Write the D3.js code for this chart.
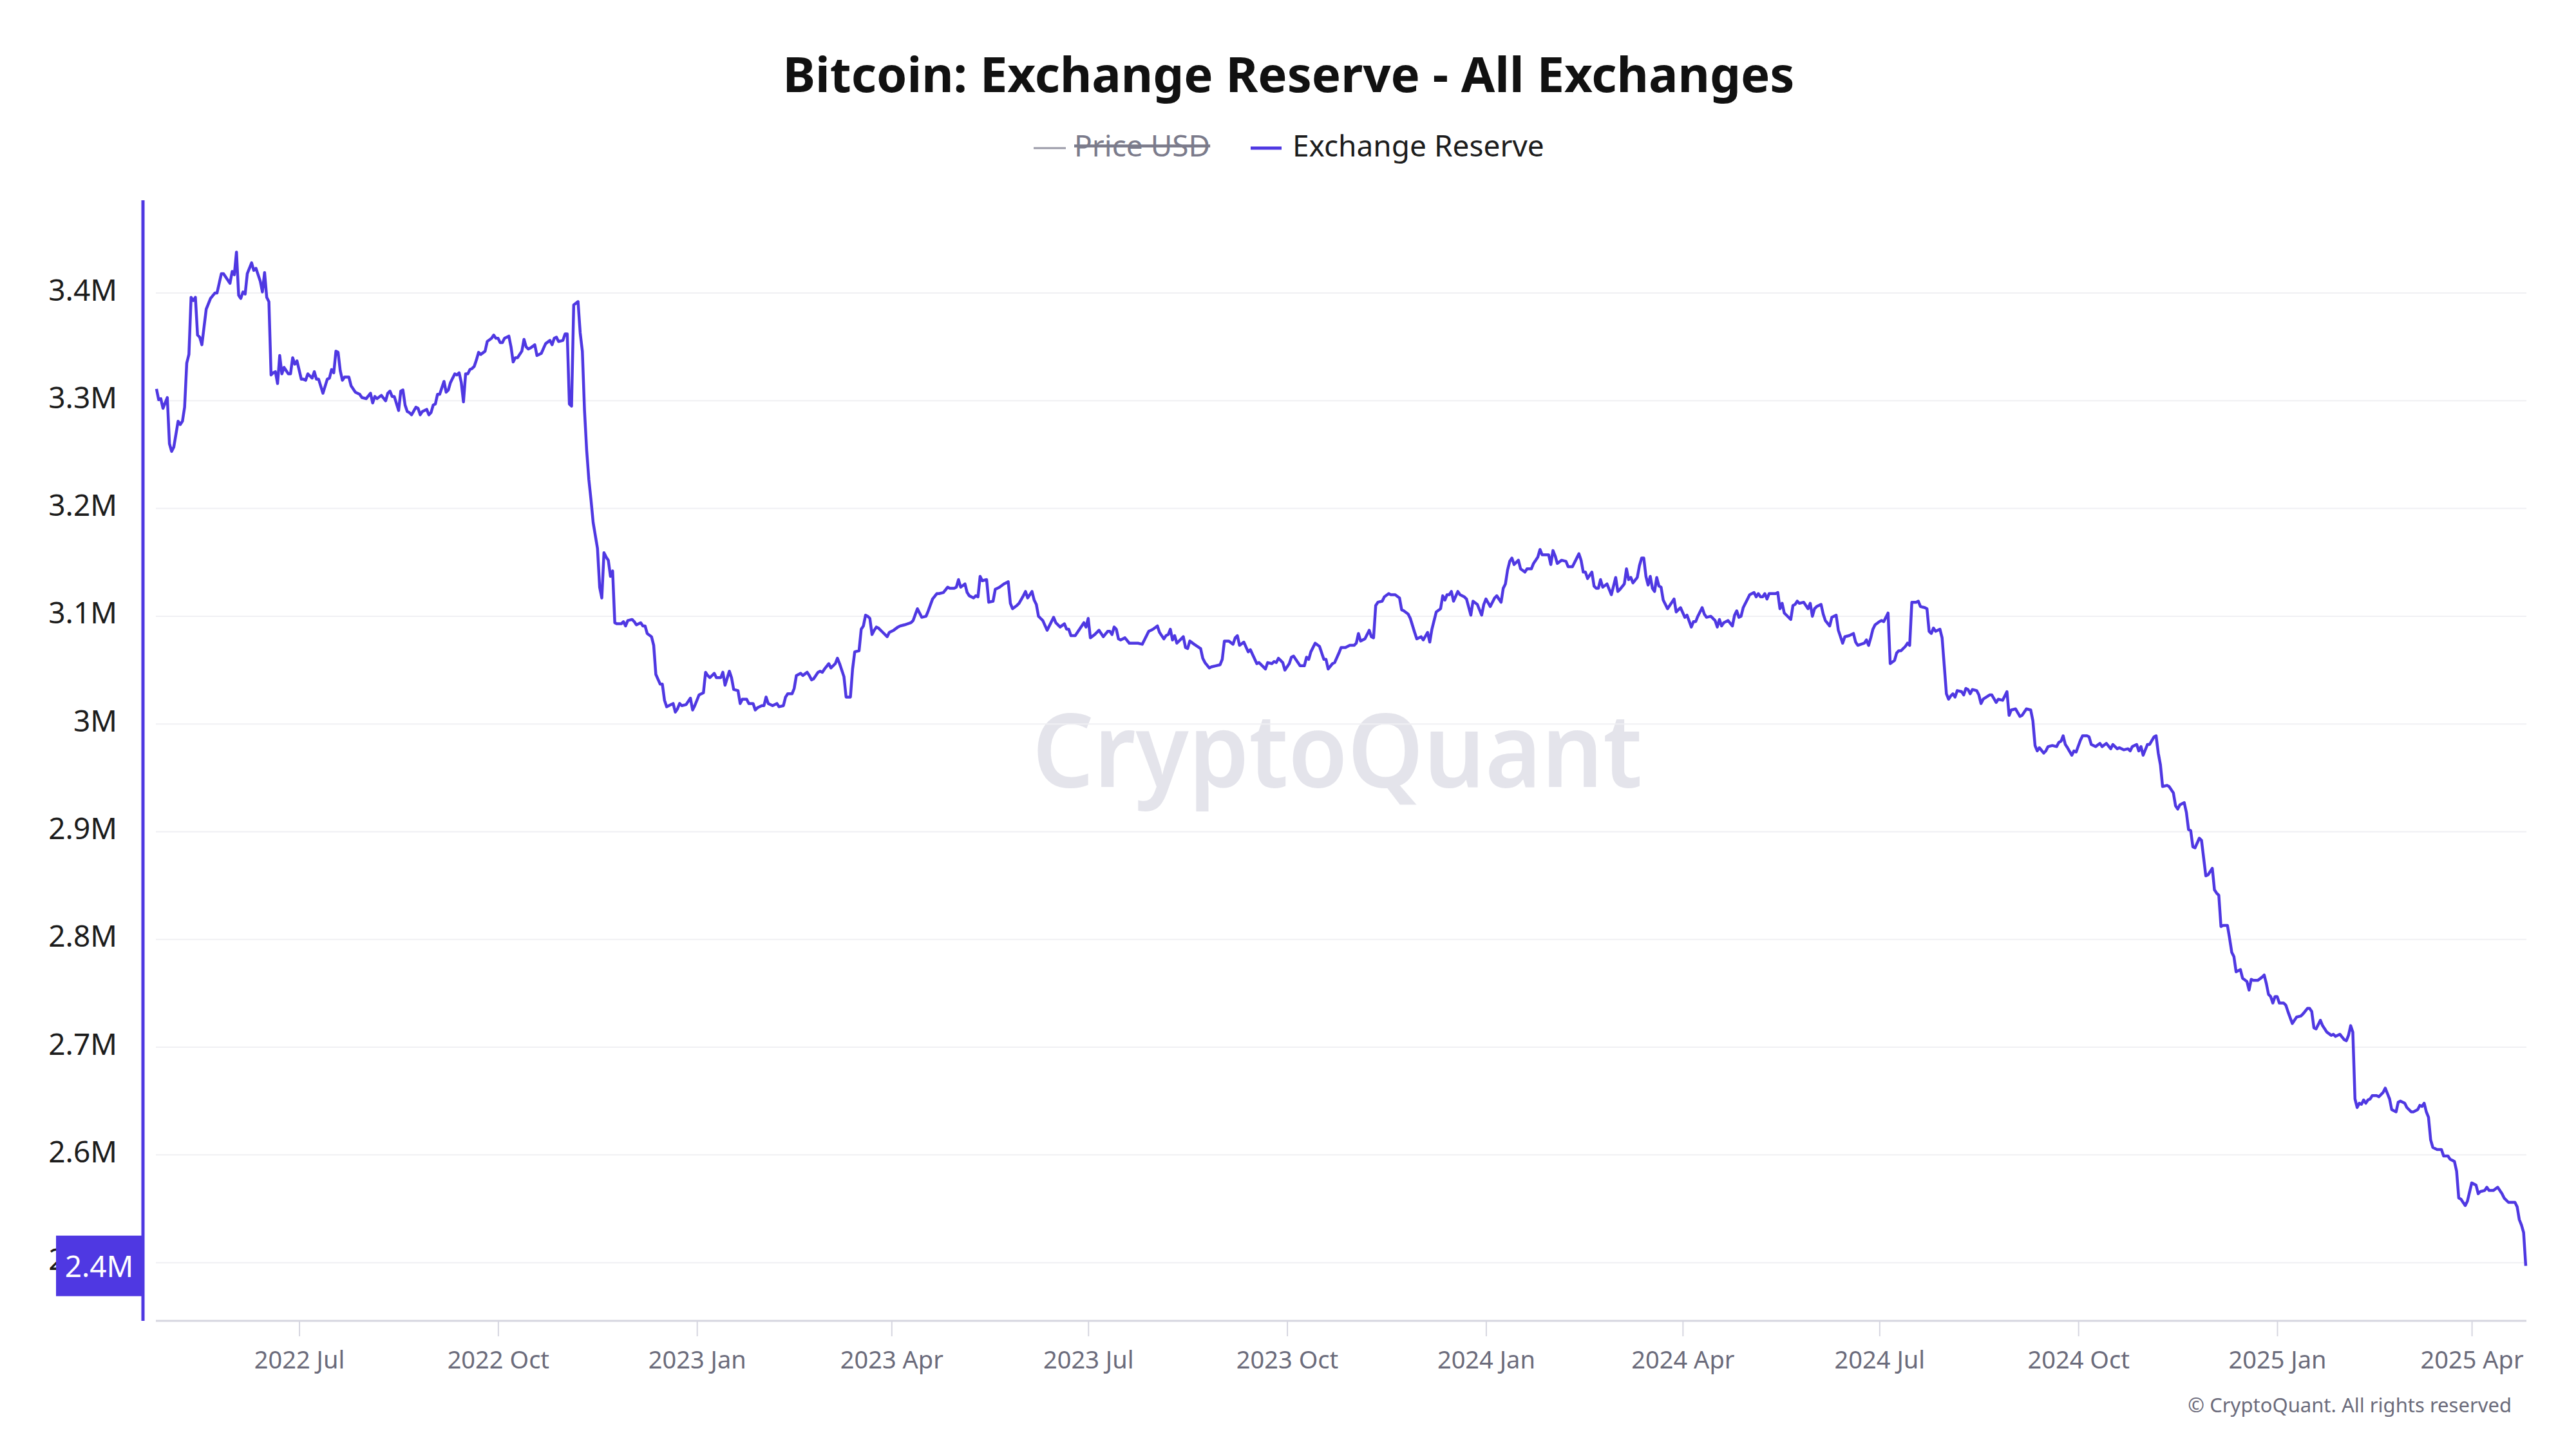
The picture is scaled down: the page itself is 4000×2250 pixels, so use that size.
<!DOCTYPE html>
<meta charset="utf-8">
<style>

body {
  margin: 0;
  background: #fff;
}

text {
  font-family: "Noto Sans", "Open Sans", sans-serif;
}

.grid line {
  stroke: #f0f0f3;
  stroke-width: 2;
}

.x-axis text {
  fill: #6b6b7b;
  font-size: 38px;
}

.x-axis line {
  stroke: #d6d6e0;
  stroke-width: 2;
}

.y-axis text {
  fill: #1c1c1c;
  font-size: 46px;
}

.reserve {
  fill: none;
  stroke: #4f38e2;
  stroke-width: 4.5;
  stroke-linejoin: round;
}

</style>

<svg width="4000" height="2250"></svg>

<script src="https://d3js.org/d3.v7.min.js"></script>
<script>

// day offset from startDate, exchange reserve in millions of BTC
var startDate = "2022-04-26";

var reserve2022 = [
  [0,3.311],[1,3.301],[2,3.302],[3,3.293],[5,3.303],[6,3.260],[7,3.253],[8,3.257],[10,3.281],[11,3.278],[12,3.281],[13,3.294],[14,3.335],[15,3.343],[16,3.396],[17,3.393],[18,3.396],[19,3.361],[20,3.359],[21,3.352],[23,3.385],[25,3.395],[27,3.400],[28,3.400],[30,3.418],[31,3.418],[33,3.412],[34,3.409],[35,3.420],[36,3.417],[37,3.438],[38,3.398],[39,3.395],[40,3.401],[41,3.399],[42,3.418],[44,3.428],[45,3.421],[46,3.423],[48,3.411],[49,3.401],[50,3.419],[51,3.396],[52,3.392],[53,3.324],[54,3.326],[55,3.327],[56,3.316],[57,3.342],[58,3.325],[59,3.331],[61,3.325],[62,3.325],[63,3.340],[64,3.334],[65,3.337],[67,3.320],[68,3.320],[69,3.319],[70,3.325],[72,3.321],[73,3.327],[74,3.320],[75,3.320],[77,3.307],[79,3.320],[80,3.321],[81,3.329],[82,3.326],[83,3.346],[84,3.345],[85,3.328],[86,3.319],[87,3.322],[89,3.322],[90,3.314],[92,3.308],[94,3.306],[95,3.303],[97,3.302],[99,3.307],[100,3.298],[101,3.304],[102,3.302],[104,3.305],[106,3.300],[107,3.307],[108,3.309],[109,3.304],[110,3.304],[112,3.291],[113,3.309],[114,3.310],[115,3.296],[116,3.290],[117,3.289],[118,3.287],[120,3.294],[121,3.293],[122,3.287],[123,3.290],[125,3.292],[126,3.287],[127,3.289],[128,3.296],[129,3.297],[130,3.306],[131,3.306],[133,3.318],[134,3.308],[135,3.310],[136,3.317],[138,3.325],[139,3.324],[140,3.326],[141,3.317],[142,3.299],[143,3.325],[144,3.325],[145,3.329],[146,3.330],[147,3.332],[148,3.338],[149,3.345],[150,3.343],[152,3.346],[153,3.355],[155,3.358],[156,3.361],[157,3.358],[158,3.358],[159,3.354],[160,3.354],[161,3.358],[163,3.360],[164,3.350],[165,3.336],[166,3.340],[167,3.340],[169,3.346],[170,3.357],[171,3.350],[172,3.348],[173,3.349],[175,3.352],[176,3.342],[178,3.344],[180,3.353],[182,3.356],[183,3.352],[184,3.358],[185,3.359],[186,3.355],[188,3.356],[189,3.362],[190,3.362],[191,3.297],[192,3.295],[193,3.389],[195,3.392],[196,3.363],[197,3.346],[198,3.291],[199,3.254],[200,3.227],[201,3.208],[202,3.187],[204,3.163],[205,3.127],[206,3.117],[207,3.159],[208,3.155],[209,3.152],[210,3.137],[211,3.142],[212,3.094]
];

var reserve2023 = [
  [213,3.093],[215,3.093],[216,3.095],[217,3.091],[218,3.096],[220,3.097],[221,3.095],[222,3.092],[224,3.094],[225,3.091],[226,3.091],[227,3.084],[229,3.081],[230,3.073],[231,3.046],[233,3.037],[234,3.037],[235,3.022],[236,3.016],[237,3.017],[239,3.019],[240,3.011],[241,3.014],[242,3.019],[243,3.017],[245,3.018],[247,3.024],[248,3.013],[249,3.017],[251,3.027],[253,3.029],[254,3.048],[255,3.045],[256,3.043],[258,3.047],[259,3.043],[261,3.043],[262,3.048],[263,3.036],[265,3.049],[266,3.043],[267,3.032],[269,3.031],[270,3.019],[271,3.023],[273,3.023],[274,3.019],[276,3.019],[277,3.013],[278,3.015],[280,3.017],[281,3.017],[282,3.025],[283,3.019],[285,3.017],[287,3.019],[288,3.016],[290,3.017],[291,3.025],[292,3.028],[294,3.028],[295,3.033],[296,3.045],[298,3.047],[299,3.045],[301,3.048],[302,3.045],[303,3.041],[304,3.042],[306,3.048],[307,3.049],[308,3.048],[309,3.051],[311,3.056],[312,3.052],[314,3.056],[315,3.061],[316,3.056],[318,3.044],[319,3.025],[321,3.025],[322,3.051],[323,3.067],[325,3.068],[326,3.088],[327,3.091],[328,3.101],[329,3.100],[330,3.098],[331,3.083],[332,3.087],[333,3.090],[334,3.089],[336,3.085],[338,3.081],[339,3.085],[341,3.087],[343,3.090],[344,3.091],[346,3.092],[349,3.094],[350,3.096],[352,3.107],[354,3.099],[356,3.100],[357,3.105],[359,3.116],[361,3.121],[362,3.121],[364,3.122],[366,3.127],[367,3.126],[369,3.126],[370,3.127],[371,3.134],[372,3.127],[374,3.130],[375,3.122],[376,3.119],[378,3.117],[379,3.119],[380,3.118],[381,3.137],[382,3.133],[384,3.134],[385,3.113],[387,3.114],[388,3.125],[389,3.126],[390,3.127],[392,3.130],[394,3.132],[395,3.112],[396,3.107],[398,3.110],[399,3.112],[401,3.119],[402,3.123],[403,3.117],[405,3.123],[406,3.115],[407,3.111],[408,3.100],[409,3.098],[410,3.096],[412,3.087],[415,3.099],[416,3.094],[418,3.090],[420,3.093],[421,3.088],[422,3.088],[423,3.082],[425,3.082],[427,3.088],[429,3.094],[430,3.090],[431,3.098],[432,3.080],[434,3.083],[436,3.087],[438,3.081],[440,3.086],[441,3.086],[442,3.083],[443,3.090],[444,3.088],[445,3.079],[446,3.078],[448,3.080],[450,3.075],[452,3.075],[454,3.075],[456,3.074],[458,3.082],[459,3.086],[460,3.087],[461,3.088],[463,3.091],[464,3.085],[466,3.079],[467,3.082],[468,3.083],[469,3.088],[470,3.078],[471,3.082],[472,3.075],[474,3.079],[475,3.081],[476,3.071],[477,3.070],[478,3.077],[480,3.074],[483,3.070],[484,3.061],[485,3.057],[487,3.052],[488,3.053],[490,3.054],[492,3.055],[493,3.060],[494,3.077],[496,3.077],[498,3.074],[499,3.080],[500,3.082],[501,3.073],[503,3.076],[505,3.067],[506,3.069],[509,3.056],[510,3.057],[511,3.055],[513,3.051],[514,3.057],[516,3.056],[517,3.058],[518,3.057],[519,3.061],[521,3.057],[522,3.050],[524,3.056],[525,3.062],[526,3.063],[528,3.057],[529,3.054],[531,3.054],[532,3.062],[533,3.060],[534,3.067],[536,3.075],[538,3.072]
];

var reserve2024a = [
  [539,3.066],[540,3.060],[541,3.060],[542,3.051],[544,3.056],[545,3.057],[547,3.066],[548,3.071],[550,3.071],[552,3.073],[554,3.073],[555,3.075],[556,3.084],[557,3.077],[559,3.079],[561,3.087],[562,3.081],[563,3.080],[564,3.110],[565,3.113],[567,3.114],[568,3.118],[570,3.121],[571,3.120],[573,3.120],[575,3.117],[576,3.106],[577,3.105],[579,3.102],[580,3.098],[582,3.085],[583,3.079],[585,3.081],[586,3.078],[588,3.085],[589,3.076],[590,3.088],[591,3.096],[592,3.104],[594,3.107],[595,3.119],[596,3.115],[597,3.120],[598,3.120],[599,3.123],[600,3.114],[602,3.123],[603,3.120],[605,3.118],[606,3.116],[608,3.101],[609,3.114],[611,3.111],[613,3.101],[614,3.111],[615,3.116],[617,3.109],[619,3.117],[620,3.119],[622,3.113],[623,3.126],[624,3.130],[625,3.143],[626,3.151],[627,3.154],[628,3.148],[630,3.152],[631,3.144],[633,3.141],[634,3.144],[636,3.144],[637,3.149],[639,3.155],[640,3.162],[641,3.157],[644,3.157],[645,3.148],[646,3.161],[647,3.156],[648,3.149],[650,3.152],[652,3.151],[653,3.146],[655,3.146],[658,3.158],[659,3.152],[660,3.141],[661,3.141],[662,3.135],[664,3.141],[665,3.128],[666,3.126],[667,3.126],[668,3.134],[669,3.127],[671,3.130],[673,3.120],[675,3.136],[676,3.123],[677,3.125],[679,3.130],[680,3.144],[681,3.134],[682,3.136],[683,3.131],[685,3.136],[686,3.147],[687,3.154],[688,3.154],[689,3.137],[690,3.129],[691,3.137],[692,3.126],[693,3.123],[694,3.136],[695,3.128],[696,3.127],[697,3.115],[699,3.107],[700,3.110],[702,3.116],[703,3.104],[704,3.106],[705,3.108],[707,3.099],[708,3.101],[710,3.090],[711,3.095],[712,3.095],[713,3.100],[715,3.108],[716,3.102],[717,3.099]
];

var reserve2024b = [
  [719,3.100],[721,3.096],[722,3.090],[723,3.097],[724,3.091],[725,3.094],[727,3.096],[729,3.091],[730,3.101],[731,3.105],[732,3.099],[733,3.100],[734,3.108],[736,3.116],[737,3.120],[739,3.122],[740,3.118],[741,3.121],[742,3.118],[743,3.118],[744,3.121],[745,3.116],[746,3.121],[749,3.121],[750,3.122],[751,3.107],[752,3.112],[753,3.103],[754,3.101],[756,3.097],[757,3.110],[758,3.111],[759,3.114],[760,3.112],[762,3.113],[764,3.107],[765,3.112],[766,3.100],[767,3.107],[768,3.109],[770,3.111],[771,3.102],[772,3.096],[774,3.091],[775,3.099],[777,3.101],[778,3.087],[780,3.075],[781,3.081],[783,3.082],[785,3.084],[786,3.076],[787,3.073],[790,3.075],[791,3.078],[792,3.073],[793,3.080],[794,3.088],[795,3.092],[797,3.095],[798,3.096],[799,3.095],[801,3.103],[802,3.056],[804,3.059],[805,3.066],[806,3.068],[807,3.068],[809,3.072],[810,3.075],[811,3.073],[812,3.113],[814,3.113],[815,3.114],[816,3.109],[818,3.108],[819,3.107],[820,3.086],[821,3.084],[822,3.089],[823,3.086],[825,3.088],[826,3.080],[828,3.028],[829,3.023],[830,3.026],[831,3.028],[832,3.025],[833,3.031],[835,3.030],[836,3.027],[837,3.033],[838,3.032],[839,3.028],[840,3.032],[842,3.031],[843,3.027],[844,3.019],[845,3.023],[848,3.027],[849,3.027],[851,3.020],[852,3.023],[854,3.022],[855,3.026],[856,3.030],[857,3.008],[858,3.013],[860,3.014],[862,3.007],[863,3.008],[865,3.014],[867,3.013],[868,3.003],[869,2.980],[870,2.975],[871,2.978],[873,2.973],[874,2.975],[875,2.979],[877,2.980],[879,2.979],[880,2.983],[881,2.984],[882,2.989],[883,2.981],[884,2.978],[886,2.971],[887,2.975],[888,2.974],[890,2.985],[891,2.989],[893,2.989],[894,2.988],[895,2.981]
];

var reserve2025 = [
  [897,2.979],[899,2.982],[900,2.979],[902,2.982],[904,2.977],[905,2.981],[907,2.977],[908,2.978],[910,2.976],[912,2.977],[913,2.975],[914,2.979],[916,2.981],[917,2.975],[918,2.979],[919,2.971],[921,2.981],[922,2.981],[924,2.988],[925,2.989],[926,2.973],[927,2.962],[928,2.942],[930,2.943],[931,2.942],[933,2.936],[934,2.924],[935,2.921],[936,2.925],[938,2.927],[939,2.918],[940,2.902],[941,2.901],[942,2.886],[943,2.885],[945,2.894],[946,2.892],[948,2.859],[949,2.860],[951,2.866],[952,2.846],[953,2.843],[954,2.841],[955,2.812],[956,2.813],[958,2.813],[959,2.801],[960,2.788],[961,2.784],[962,2.770],[964,2.772],[965,2.764],[967,2.761],[968,2.753],[969,2.763],[970,2.762],[972,2.762],[974,2.765],[975,2.767],[976,2.759],[977,2.749],[978,2.747],[979,2.741],[980,2.747],[981,2.747],[982,2.741],[984,2.741],[985,2.739],[986,2.733],[988,2.722],[989,2.725],[990,2.728],[992,2.729],[993,2.731],[995,2.736],[996,2.736],[997,2.733],[998,2.718],[999,2.717],[1001,2.725],[1002,2.720],[1004,2.714],[1006,2.711],[1007,2.712],[1008,2.710],[1010,2.712],[1012,2.707],[1013,2.706],[1014,2.711],[1015,2.720],[1016,2.714],[1017,2.652],[1018,2.644],[1019,2.648],[1020,2.647],[1021,2.651],[1022,2.648],[1023,2.651],[1024,2.652],[1025,2.655],[1027,2.655],[1028,2.654],[1030,2.658],[1031,2.662],[1032,2.657],[1033,2.652],[1034,2.642],[1036,2.640],[1037,2.649],[1038,2.650],[1040,2.648],[1041,2.644],[1043,2.640],[1044,2.640],[1046,2.642],[1047,2.646],[1048,2.645],[1049,2.648],[1050,2.640],[1051,2.635],[1052,2.614],[1053,2.607],[1055,2.605],[1057,2.605],[1058,2.599],[1060,2.599],[1061,2.596],[1063,2.594],[1064,2.585],[1065,2.560],[1066,2.559],[1068,2.553],[1069,2.557],[1071,2.574],[1073,2.572],[1074,2.564],[1075,2.566],[1077,2.567],[1078,2.570],[1079,2.567],[1081,2.567],[1083,2.570],[1085,2.564],[1086,2.560],[1088,2.556],[1091,2.556],[1092,2.552],[1093,2.540],[1094,2.535],[1095,2.528],[1096,2.497]
];

var yTicks = [2.5, 2.6, 2.7, 2.8, 2.9, 3, 3.1, 3.2, 3.3, 3.4];
var endDate = "2025-04-26";

var svg = d3.select("svg");

var day0 = d3.utcParse("%Y-%m-%d")(startDate);
var data = reserve2022.concat(reserve2023, reserve2024a, reserve2024b, reserve2025)
    .map(d => ({date: d3.utcDay.offset(day0, d[0]), value: d[1]}));

var x = d3.scaleUtc()
    .domain([day0, d3.utcParse("%Y-%m-%d")(endDate)])
    .range([243, 3922]);

var y = d3.scaleLinear()
    .domain([2.446, 3.4855])
    .range([2051, 312]);

// title + legend
svg.append("text")
    .attr("x", 2001).attr("y", 143)
    .attr("text-anchor", "middle")
    .style("font-size", "76px").style("font-weight", 700).style("fill", "#111")
    .text("Bitcoin: Exchange Reserve - All Exchanges");

var legend = svg.append("g");
legend.append("line")
    .attr("x1", 1605).attr("x2", 1655).attr("y1", 230).attr("y2", 230)
    .attr("stroke", "#9a9aa8").attr("stroke-width", 3);
legend.append("text")
    .attr("x", 1668).attr("y", 243)
    .style("font-size", "46px").style("fill", "#7b7b8b")
    .style("text-decoration", "line-through")
    .text("Price USD");
legend.append("line")
    .attr("x1", 1942).attr("x2", 1990).attr("y1", 230).attr("y2", 230)
    .attr("stroke", "#4f38e2").attr("stroke-width", 5);
legend.append("text")
    .attr("x", 2007).attr("y", 243)
    .style("font-size", "46px").style("fill", "#1c1c1c")
    .text("Exchange Reserve");

// watermark
svg.append("text")
    .attr("x", 1603).attr("y", 1222)
    .attr("textLength", 947).attr("lengthAdjust", "spacingAndGlyphs")
    .style("font-size", "160px").style("font-weight", 600).style("fill", "#e4e4eb")
    .text("CryptoQuant");

// grid
svg.append("g")
    .attr("class", "grid")
  .selectAll("line")
  .data(yTicks)
  .enter()
  .append("line")
    .attr("x1", 242).attr("x2", 3923)
    .attr("y1", d => y(d)).attr("y2", d => y(d));

// x axis
var xAxis = svg.append("g")
    .attr("class", "x-axis")
    .attr("transform", "translate(0,2051)")
    .call(d3.axisBottom(x)
      .ticks(d3.utcMonth.every(3))
      .tickFormat(d3.utcFormat("%Y %b"))
      .tickSize(24)
      .tickPadding(23));
xAxis.select(".domain").remove();
xAxis.selectAll("text").style("font-family", "'Noto Sans', sans-serif");
svg.append("line")
    .attr("x1", 242).attr("x2", 3923).attr("y1", 2051).attr("y2", 2051)
    .attr("stroke", "#d6d6e0").attr("stroke-width", 3);

// y axis
var yAxis = svg.append("g")
    .attr("class", "y-axis")
    .attr("transform", "translate(222,0)")
    .call(d3.axisLeft(y)
      .tickValues(yTicks)
      .tickFormat(d => d3.format("~g")(d) + "M")
      .tickSize(0)
      .tickPadding(40));
yAxis.select(".domain").remove();
yAxis.selectAll("text").attr("dy", "0.24em").style("font-family", "'Noto Sans', sans-serif");
svg.append("line")
    .attr("x1", 222).attr("x2", 222).attr("y1", 311).attr("y2", 2051)
    .attr("stroke", "#4f38e2").attr("stroke-width", 5);

// series
var line = d3.line()
    .x(d => x(d.date))
    .y(d => y(d.value));

svg.append("path")
    .datum(data)
    .attr("class", "reserve")
    .attr("d", line);

// last value marker on the y axis
var last = data[data.length - 1];
var marker = svg.append("g")
    .attr("transform", "translate(0," + y(last.value) + ")");
marker.append("rect")
    .attr("x", 87).attr("y", -47).attr("width", 133).attr("height", 94)
    .attr("fill", "#4f38e2");
marker.append("text")
    .attr("x", 154).attr("y", 17)
    .attr("text-anchor", "middle")
    .style("font-size", "46px").style("fill", "#fff")
    .text(Math.floor(last.value * 10) / 10 + "M");

// credit
svg.append("text")
    .attr("x", 3900).attr("y", 2193)
    .attr("text-anchor", "end")
    .style("font-size", "31px").style("fill", "#6b6b7b")
    .text("© CryptoQuant. All rights reserved");

</script>
